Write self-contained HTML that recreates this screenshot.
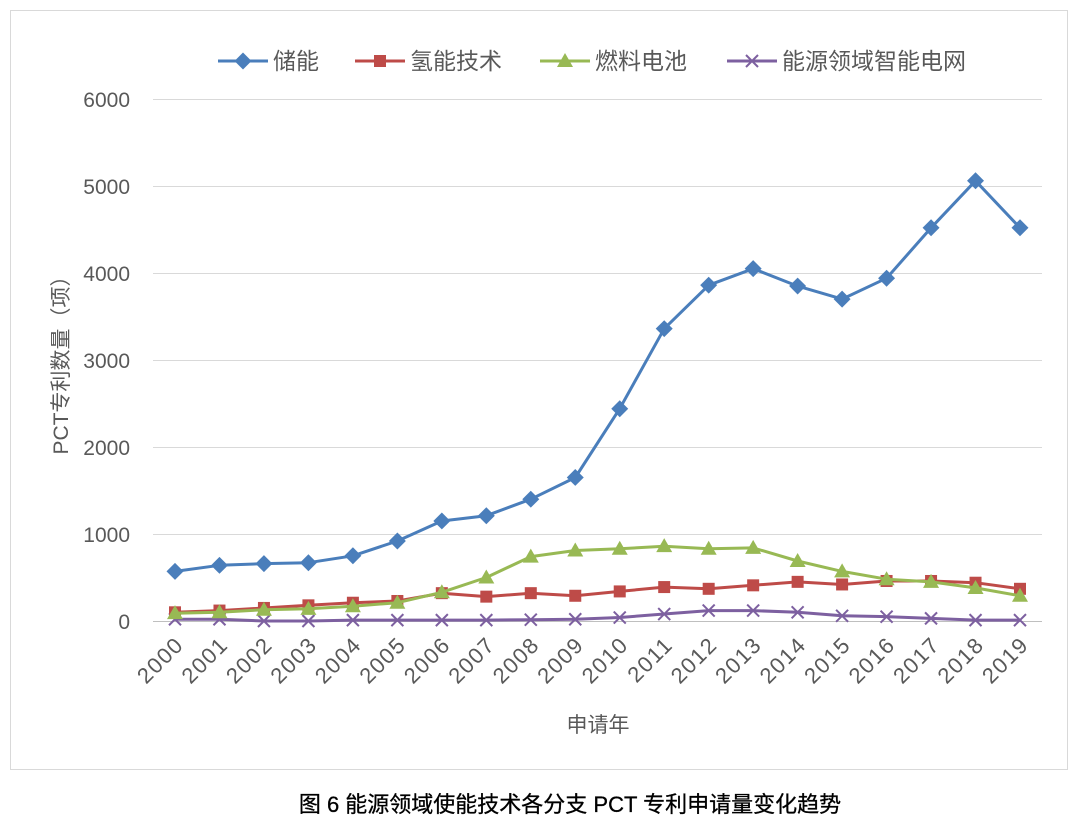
<!DOCTYPE html>
<html><head><meta charset="utf-8"><style>
body{margin:0;background:#fff;}
svg{display:block;font-family:"Liberation Sans","Noto Sans CJK SC",sans-serif;}
</style></head><body>
<svg width="1080" height="821" viewBox="0 0 1080 821" xmlns="http://www.w3.org/2000/svg">
<rect x="10.5" y="10.5" width="1057" height="759" fill="#fff" stroke="#d9d9d9"/>
<g stroke="#d9d9d9" stroke-width="1">
<line x1="153" y1="99.5" x2="1042" y2="99.5"/>
<line x1="153" y1="186.5" x2="1042" y2="186.5"/>
<line x1="153" y1="273.5" x2="1042" y2="273.5"/>
<line x1="153" y1="360.5" x2="1042" y2="360.5"/>
<line x1="153" y1="447.5" x2="1042" y2="447.5"/>
<line x1="153" y1="534.5" x2="1042" y2="534.5"/>
</g>
<line x1="153" y1="621.5" x2="1042" y2="621.5" stroke="#bfbfbf"/>
<g font-size="21" fill="#595959" text-anchor="end">
<text x="130" y="107">6000</text><text x="130" y="194">5000</text><text x="130" y="281">4000</text>
<text x="130" y="368">3000</text><text x="130" y="455">2000</text><text x="130" y="542">1000</text><text x="130" y="629">0</text>
</g>
<g font-size="22" fill="#595959" text-anchor="end" letter-spacing="1.5" id="xl"></g>
<text x="68" y="360" font-size="21" fill="#595959" text-anchor="middle" transform="rotate(-90 68 360)">PCT专利数量（项）</text>
<text x="598" y="732" font-size="21" fill="#595959" text-anchor="middle">申请年</text>
<text x="570" y="812" font-size="22" fill="#000" stroke="#000" stroke-width="0.3" text-anchor="middle">图 6  能源领域使能技术各分支 PCT 专利申请量变化趋势</text>
<g id="series"></g>
<g font-size="23" fill="#595959">
<line x1="218" y1="61" x2="268" y2="61" stroke="#4a7ebb" stroke-width="3"/><rect x="237" y="55" width="12" height="12" fill="#4a7ebb" transform="rotate(45 243 61)"/><text x="273" y="69">储能</text>
<line x1="355" y1="61" x2="405" y2="61" stroke="#be4b48" stroke-width="3"/><rect x="374" y="55" width="12" height="12" fill="#be4b48"/><text x="410" y="69">氢能技术</text>
<line x1="540" y1="61" x2="590" y2="61" stroke="#98b954" stroke-width="3"/><polygon points="565,53 573,67 557,67" fill="#98b954"/><text x="595" y="69">燃料电池</text>
<line x1="727" y1="61" x2="777" y2="61" stroke="#7d60a0" stroke-width="3"/><path d="M746 55l12 12M758 55l-12 12" stroke="#7d60a0" stroke-width="2"/><text x="782" y="69">能源领域智能电网</text>
</g>
</svg>
<script>
var x0=175,dx=(1020-175)/19,y0=621,k=0.087;
var xl=document.getElementById('xl'),s='';
for(var i=0;i<20;i++){var x=x0+i*dx+10,y=646;s+='<text x="'+x+'" y="'+y+'" transform="rotate(-45 '+x+' '+y+')">'+(2000+i)+'</text>';}
xl.innerHTML=s;
var D=[[570,640,660,670,750,920,1150,1210,1400,1650,2440,3360,3860,4050,3850,3700,3940,4520,5060,4520],
[100,120,150,180,210,230,320,280,320,290,340,390,370,410,450,420,460,460,440,370],
[90,100,130,140,170,210,330,500,740,810,830,860,830,840,690,570,480,450,380,290],
[20,20,0,0,10,10,10,10,15,20,40,80,120,120,100,60,50,30,10,10]];
var C=['#4a7ebb','#be4b48','#98b954','#7d60a0'];var o='';
[3,1,2,0].forEach(function(j){var p=[],m='';D[j].forEach(function(v,i){var x=x0+i*dx,y=y0-v*k;p.push(x.toFixed(1)+','+y.toFixed(1));
if(j==0)m+='<rect x="'+(x-6)+'" y="'+(y-6)+'" width="12" height="12" fill="'+C[j]+'" transform="rotate(45 '+x+' '+y+')"/>';
else if(j==1)m+='<rect x="'+(x-6)+'" y="'+(y-6)+'" width="12" height="12" fill="'+C[j]+'"/>';
else if(j==2)m+='<polygon points="'+x+','+(y-8)+' '+(x+8)+','+(y+6)+' '+(x-8)+','+(y+6)+'" fill="'+C[j]+'"/>';
else m+='<path d="M'+(x-6)+' '+(y-6)+'l12 12M'+(x+6)+' '+(y-6)+'l-12 12" stroke="'+C[j]+'" stroke-width="2"/>';});
o+='<polyline points="'+p.join(' ')+'" fill="none" stroke="'+C[j]+'" stroke-width="3" stroke-linejoin="round"/>'+m;});
document.getElementById('series').innerHTML=o;
</script>
</body></html>
